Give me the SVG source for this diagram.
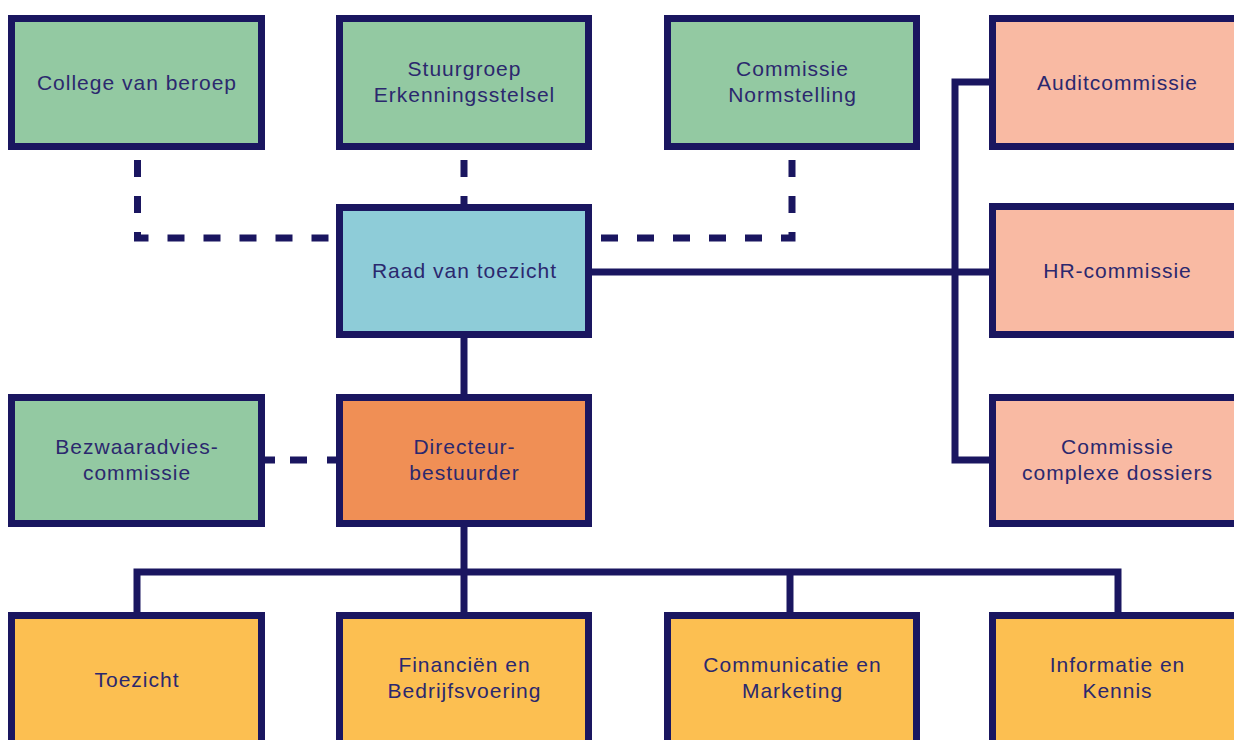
<svg xmlns="http://www.w3.org/2000/svg" width="1234" height="740" viewBox="0 0 1234 740">
<style>
.box{stroke:#1A1660;stroke-width:7}
.g{fill:#93C9A2}.b{fill:#8ECCD8}.o{fill:#F08F55}.s{fill:#F9BAA3}.y{fill:#FCBF51}
.t{font-family:"Liberation Sans",Arial,sans-serif;font-size:21px;letter-spacing:1px;fill:#2B286E;text-anchor:middle}
.ln{fill:none;stroke:#1A1660;stroke-width:7}
.d{stroke-dasharray:17 19}
</style>
<rect width="1234" height="740" fill="#FFFFFF"/>
<g id="connectors">
<path class="ln" d="M464,338 V397"/>
<path class="ln" d="M464,527 V615"/>
<path class="ln" d="M137,615 V572 H1118 V615"/>
<path class="ln" d="M790,572 V615"/>
<path class="ln" d="M590,272 H994"/>
<path class="ln" d="M994,82 H955 V460 H994"/>
<path class="ln d" d="M137.5,160 V238 H338"/>
<path class="ln d" d="M464,160 V208"/>
<path class="ln d" d="M792,160 V238 H590"/>
<path class="ln" style="stroke-dasharray:10 15 17 20 20" d="M265,460 H340"/>
</g>
<g id="college"><rect class="box g" x="11.5" y="18.5" width="250" height="128"/><text class="t" x="137" y="90">College van beroep</text></g>
<g id="stuurgroep"><rect class="box g" x="339.5" y="18.5" width="249" height="128"/><text class="t" x="464.5" y="76">Stuurgroep</text><text class="t" x="464.5" y="102">Erkenningsstelsel</text></g>
<g id="normstelling"><rect class="box g" x="667.5" y="18.5" width="249" height="128"/><text class="t" x="792.5" y="76">Commissie</text><text class="t" x="792.5" y="102">Normstelling</text></g>
<g id="audit"><rect class="box s" x="992.5" y="18.5" width="250" height="128"/><text class="t" x="1117.5" y="90">Auditcommissie</text></g>
<g id="raad"><rect class="box b" x="339.5" y="207.5" width="249" height="127"/><text class="t" x="464.5" y="278">Raad van toezicht</text></g>
<g id="hr"><rect class="box s" x="992.5" y="206.5" width="250" height="128"/><text class="t" x="1117.5" y="278">HR-commissie</text></g>
<g id="bezwaar"><rect class="box g" x="11.5" y="397.5" width="250" height="126"/><text class="t" x="137" y="454">Bezwaaradvies-</text><text class="t" x="137" y="480">commissie</text></g>
<g id="directeur"><rect class="box o" x="339.5" y="397.5" width="249" height="126"/><text class="t" x="464.5" y="454">Directeur-</text><text class="t" x="464.5" y="480">bestuurder</text></g>
<g id="complex"><rect class="box s" x="992.5" y="397.5" width="250" height="126"/><text class="t" x="1117.5" y="454">Commissie</text><text class="t" x="1117.5" y="480">complexe dossiers</text></g>
<g id="toezicht"><rect class="box y" x="11.5" y="615.5" width="250" height="140"/><text class="t" x="137" y="687">Toezicht</text></g>
<g id="financien"><rect class="box y" x="339.5" y="615.5" width="249" height="140"/><text class="t" x="464.5" y="672">Financiën en</text><text class="t" x="464.5" y="698">Bedrijfsvoering</text></g>
<g id="communicatie"><rect class="box y" x="667.5" y="615.5" width="249" height="140"/><text class="t" x="792.5" y="672">Communicatie en</text><text class="t" x="792.5" y="698">Marketing</text></g>
<g id="informatie"><rect class="box y" x="992.5" y="615.5" width="250" height="140"/><text class="t" x="1117.5" y="672">Informatie en</text><text class="t" x="1117.5" y="698">Kennis</text></g>
</svg>
